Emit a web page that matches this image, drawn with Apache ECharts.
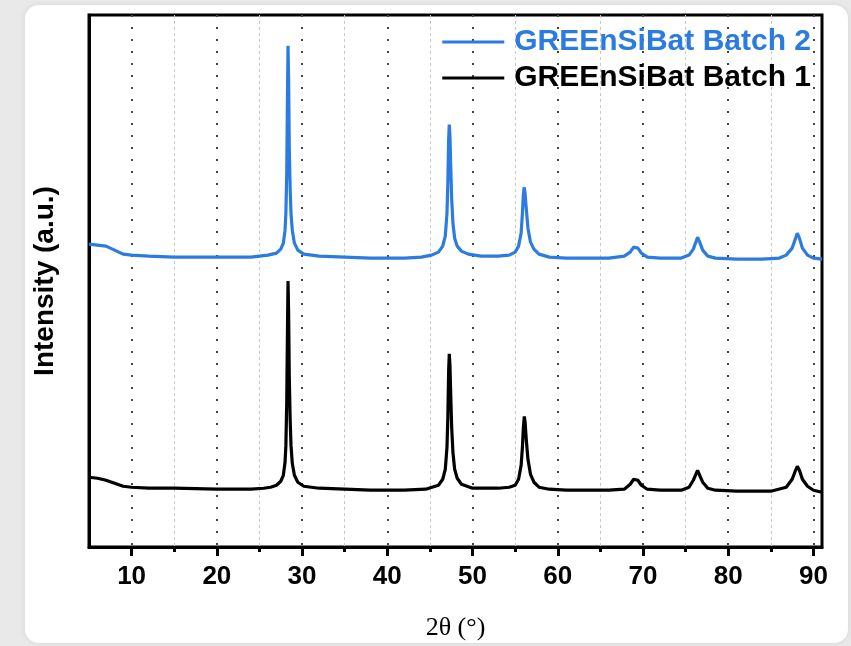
<!DOCTYPE html>
<html>
<head>
<meta charset="utf-8">
<script src="https://cdn.jsdelivr.net/npm/echarts@6/dist/echarts.min.js"></script>
<style>
  html, body { margin: 0; padding: 0; }
  body { width: 851px; height: 646px; background: #e9e9e9; position: relative; overflow: hidden; }
  .card {
    position: absolute; left: 25px; top: 5px; width: 823px; height: 638px;
    background: #fff; border-radius: 14px; box-shadow: 0 0 6px rgba(0,0,0,0.08);
  }
  #chart { position: absolute; left: 0; top: 0; width: 851px; height: 646px; }
</style>
</head>
<body>
<div class="card"></div>
<div id="chart"></div>
<script>
// tick positions (2θ)
const majorTicks = [10, 20, 30, 40, 50, 60, 70, 80, 90]
const minorTicks = [15, 25, 35, 45, 55, 65, 75, 85]

const seriesNames = ['GREEnSiBat Batch 2', 'GREEnSiBat Batch 1']

// [2θ, intensity a.u.]
const batch2 = [
  [5.0, 304], [6.0, 303], [7.0, 302], [8.0, 298], [9.0, 294], [10.0, 293], [12, 292],
  [15, 291], [18, 291], [20, 291], [22, 291], [24, 291], [25, 292], [26, 293],
  [27.0, 295], [27.5, 299], [27.8, 305], [28.0, 318], [28.1, 335], [28.2, 375],
  [28.27, 440], [28.35, 503], [28.42, 470], [28.5, 400], [28.6, 360], [28.7, 335],
  [28.85, 318], [29.1, 305], [29.5, 298], [30.2, 294], [32, 292], [35, 291], [38, 290],
  [40, 290], [42, 290], [44, 291], [45.2, 293],
  [46.0, 296], [46.5, 302], [46.8, 312], [47.0, 335], [47.1, 365], [47.2, 410],
  [47.27, 424], [47.35, 412], [47.45, 380], [47.55, 350], [47.7, 325], [47.9, 310],
  [48.2, 302], [48.7, 297], [49.5, 294], [51, 292], [53, 292], [54.3, 293],
  [55.0, 296], [55.4, 302], [55.7, 315], [55.85, 335], [55.95, 352], [56.05, 361],
  [56.15, 356], [56.3, 340], [56.5, 320], [56.8, 306], [57.2, 299], [57.8, 294],
  [59, 291], [61, 290], [63, 290], [66, 290],
  [67.8, 292], [68.5, 296], [68.9, 301], [69.1, 303], [69.4, 300], [69.8, 295], [70.5, 291],
  [72, 290], [74.5, 290],
  [75.4, 293], [75.9, 299], [76.2, 306], [76.4, 311], [76.65, 306], [77.0, 298], [77.6, 292],
  [78.5, 290], [81, 289], [84, 289], [86, 290],
  [86.8, 293], [87.5, 300], [87.9, 310], [88.1, 315], [88.35, 310], [88.7, 300], [89.3, 293],
  [90, 290], [91, 289]
]

const batch1 = [
  [5.0, 70], [6.0, 69], [7.0, 67], [8.0, 64], [9.0, 61], [10, 60], [12, 59], [15, 59],
  [20, 58], [24, 58], [25.5, 59], [26.3, 60],
  [27.0, 62], [27.5, 66], [27.8, 72], [28.0, 85], [28.1, 102], [28.2, 145], [28.27, 205],
  [28.35, 267], [28.42, 235], [28.5, 170], [28.6, 128], [28.7, 102], [28.85, 84],
  [29.1, 72], [29.5, 65], [30.2, 61], [32, 59], [35, 58], [38, 57], [42, 57], [44.5, 58],
  [46.0, 62], [46.5, 68], [46.8, 78], [47.0, 100], [47.1, 130], [47.2, 178], [47.27, 194],
  [47.35, 182], [47.45, 150], [47.55, 120], [47.7, 95], [47.9, 78], [48.2, 69], [48.7, 63],
  [50, 59], [53, 59], [54.3, 60],
  [55.0, 62], [55.4, 68], [55.7, 82], [55.85, 100], [55.95, 118], [56.07, 131], [56.17, 125],
  [56.3, 108], [56.5, 88], [56.8, 73], [57.2, 65], [57.8, 60], [59, 58], [61, 57], [66, 57],
  [67.8, 58], [68.5, 63], [68.9, 68], [69.1, 70], [69.4, 67], [69.8, 62], [70.5, 58],
  [72, 57], [74.5, 57],
  [75.4, 60], [75.9, 67], [76.2, 73], [76.4, 77], [76.65, 72], [77.0, 65], [77.6, 59],
  [78.5, 57], [81, 56], [85, 56],
  [86.8, 60], [87.5, 68], [87.9, 77], [88.1, 81], [88.35, 77], [88.7, 68], [89.3, 61],
  [90, 57], [91, 55]
]

const blue = '#2b7be0'
const chart = echarts.init(document.getElementById('chart'))

const option = {
  backgroundColor: 'transparent',
  animation: false,
  grid: {
    left: 89, right: 29, top: 15, bottom: 98,
    show: true, borderColor: '#000', borderWidth: 3
  },
  legend: {
    data: [
      { name: seriesNames[0], textStyle: { color: blue } },
      { name: seriesNames[1], textStyle: { color: '#000' } }
    ],
    orient: 'vertical',
    right: 35, top: 22,
    icon: 'rect',
    itemWidth: 62, itemHeight: 3, itemGap: 6,
    textStyle: { fontFamily: 'Liberation Sans', fontWeight: 'bold', fontSize: 30, padding: [0, 0, 0, 5] }
  },
  xAxis: [
    {
      type: 'value', min: 5, max: 91,
      name: '2θ (°)', nameLocation: 'middle', nameGap: 68,
      nameTextStyle: { fontFamily: 'Liberation Serif', fontSize: 26, color: '#000' },
      axisLine: { show: true, lineStyle: { color: '#000', width: 3 } },
      axisTick: { show: true, customValues: majorTicks, length: 9, lineStyle: { color: '#000', width: 3 } },
      axisLabel: {
        customValues: majorTicks, margin: 17,
        fontFamily: 'Liberation Sans', fontWeight: 'bold', fontSize: 26, color: '#000'
      },
      splitLine: { show: true, lineStyle: { color: '#444', width: 2, type: [2, 10] } }
    },
    {
      type: 'value', min: 5, max: 91, position: 'bottom',
      axisLine: { show: false },
      axisTick: { show: true, customValues: minorTicks, length: 5, lineStyle: { color: '#000', width: 3 } },
      axisLabel: { show: false },
      splitLine: { show: true, lineStyle: { color: '#c8c8c8', width: 1, type: [3, 3] } }
    }
  ],
  yAxis: {
    type: 'value', min: 0, max: 534,
    name: 'Intensity (a.u.)', nameLocation: 'middle', nameGap: 30,
    nameTextStyle: { fontFamily: 'Liberation Sans', fontWeight: 'bold', fontSize: 28, color: '#000' },
    axisLine: { show: true, lineStyle: { color: '#000', width: 3 } },
    axisTick: { show: false },
    axisLabel: { show: false },
    splitLine: { show: false }
  },
  series: [
    {
      name: seriesNames[0], type: 'line', data: batch2, symbol: 'none',
      lineStyle: { color: blue, width: 3.2 }, itemStyle: { color: blue }
    },
    {
      name: seriesNames[1], type: 'line', data: batch1, symbol: 'none',
      lineStyle: { color: '#000', width: 3.2 }, itemStyle: { color: '#000' }
    }
  ]
}

chart.setOption(option)
</script>
</body>
</html>
